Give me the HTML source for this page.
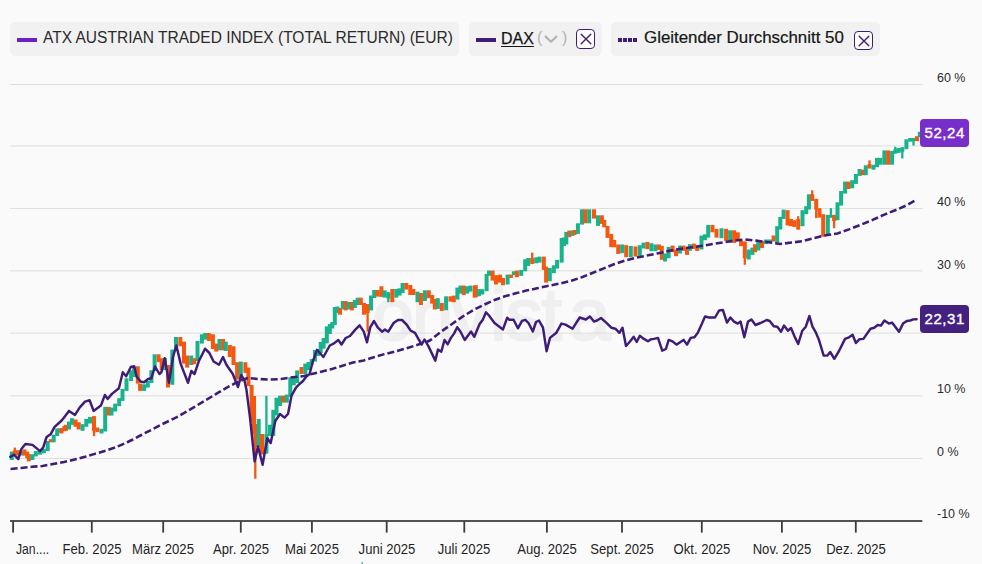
<!DOCTYPE html>
<html><head><meta charset="utf-8"><title>Chart</title>
<style>
html,body{margin:0;padding:0;}
body{width:982px;height:564px;overflow:hidden;background:#fafafa;font-family:"Liberation Sans",sans-serif;position:relative;color:#1c1c1c;}
.pill{position:absolute;top:22px;height:34px;background:#f1f1f1;border-radius:5px;}
.lt{position:absolute;font-size:16px;line-height:20px;white-space:nowrap;color:#2a2a2a;transform-origin:0 50%;}
.yl{position:absolute;left:936.8px;font-size:13.5px;line-height:14px;color:#2a2a2a;white-space:nowrap;transform:scaleX(0.925);transform-origin:0 50%;}
.xl{position:absolute;top:541.2px;font-size:14px;line-height:16px;color:#1f1f1f;white-space:nowrap;transform:translateX(-50%) scaleX(0.935);}
.badge{position:absolute;left:920.1px;width:48.6px;height:28.3px;border-radius:4px;color:#fff;font-size:15px;line-height:27.6px;text-align:center;-webkit-text-stroke:0.4px #fff;letter-spacing:0.55px;text-indent:0.5px;}
.xb{position:absolute;width:17.5px;height:17.5px;border:1.2px solid #3e1c78;border-radius:4px;background:#fff;}
</style></head><body>

<svg width="982" height="564" viewBox="0 0 982 564" style="position:absolute;left:0;top:0">
<text x="393" y="340.3" text-anchor="middle" font-family="Liberation Sans, sans-serif" font-size="74.5" fill="#efefef" stroke="#efefef" stroke-width="2.2" stroke-linejoin="round">o</text>
<text x="432.8" y="340.3" text-anchor="middle" font-family="Liberation Sans, sans-serif" font-size="74.5" fill="#efefef" stroke="#efefef" stroke-width="2.2" stroke-linejoin="round">n</text>
<text x="470.3" y="340.3" text-anchor="middle" font-family="Liberation Sans, sans-serif" font-size="74.5" fill="#efefef" stroke="#efefef" stroke-width="2.2" stroke-linejoin="round">v</text>
<text x="498.6" y="340.3" text-anchor="middle" font-family="Liberation Sans, sans-serif" font-size="74.5" fill="#efefef" stroke="#efefef" stroke-width="2.2" stroke-linejoin="round">i</text>
<text x="524.3" y="340.3" text-anchor="middle" font-family="Liberation Sans, sans-serif" font-size="74.5" fill="#efefef" stroke="#efefef" stroke-width="2.2" stroke-linejoin="round">s</text>
<text x="551.5" y="340.3" text-anchor="middle" font-family="Liberation Sans, sans-serif" font-size="74.5" fill="#efefef" stroke="#efefef" stroke-width="2.2" stroke-linejoin="round">t</text>
<text x="589.8" y="340.3" text-anchor="middle" font-family="Liberation Sans, sans-serif" font-size="74.5" fill="#efefef" stroke="#efefef" stroke-width="2.2" stroke-linejoin="round">a</text>
<rect x="10" y="84.00" width="912.3" height="1" fill="#dedede"/>
<rect x="10" y="145.40" width="912.3" height="1" fill="#dedede"/>
<rect x="10" y="207.95" width="912.3" height="1" fill="#dedede"/>
<rect x="10" y="270.35" width="912.3" height="1" fill="#dedede"/>
<rect x="10" y="332.60" width="912.3" height="1" fill="#dedede"/>
<rect x="10" y="395.30" width="912.3" height="1" fill="#dedede"/>
<rect x="10" y="458.00" width="912.3" height="1" fill="#dedede"/>
<rect x="13.65" y="447.60" width="2.3" height="7.40" fill="#f4570f"/>
<rect x="92.85" y="416.20" width="2.3" height="19.90" fill="#f4570f"/>
<rect x="254.15" y="424.00" width="2.3" height="54.70" fill="#f4570f"/>
<rect x="265.25" y="395.80" width="2.3" height="57.70" fill="#18b28b"/>
<rect x="366.45" y="304.00" width="2.3" height="27.70" fill="#f4570f"/>
<rect x="387.15" y="292.30" width="2.3" height="9.90" fill="#18b28b"/>
<rect x="531.05" y="252.60" width="2.3" height="11.30" fill="#f4570f"/>
<rect x="743.65" y="241.60" width="2.3" height="23.20" fill="#f4570f"/>
<rect x="797.05" y="216.20" width="2.3" height="13.30" fill="#f4570f"/>
<rect x="811.05" y="190.30" width="2.3" height="10.60" fill="#f4570f"/>
<rect x="815.05" y="198.90" width="2.3" height="19.30" fill="#f4570f"/>
<rect x="829.75" y="208.20" width="2.3" height="9.40" fill="#18b28b"/>
<rect x="832.95" y="214.90" width="2.3" height="13.30" fill="#f4570f"/>
<rect x="868.35" y="160.40" width="2.3" height="8.00" fill="#f4570f"/>
<rect x="894.15" y="146.70" width="2.3" height="6.80" fill="#18b28b"/>
<rect x="901.15" y="147.30" width="2.3" height="11.20" fill="#18b28b"/>
<rect x="912.35" y="138.00" width="2.3" height="7.50" fill="#18b28b"/>
<rect x="9.80" y="451.60" width="4.0" height="8.40" fill="#18b28b"/>
<rect x="12.80" y="450.50" width="4.0" height="4.50" fill="#f4570f"/>
<rect x="16.00" y="450.20" width="4.0" height="5.40" fill="#f4570f"/>
<rect x="19.30" y="451.00" width="4.0" height="4.50" fill="#18b28b"/>
<rect x="22.50" y="449.40" width="4.0" height="6.20" fill="#f4570f"/>
<rect x="25.20" y="451.60" width="4.0" height="6.60" fill="#f4570f"/>
<rect x="26.80" y="454.00" width="4.0" height="7.30" fill="#f4570f"/>
<rect x="30.40" y="454.20" width="4.0" height="5.80" fill="#18b28b"/>
<rect x="33.80" y="451.10" width="4.0" height="5.30" fill="#18b28b"/>
<rect x="37.90" y="450.20" width="4.0" height="4.50" fill="#18b28b"/>
<rect x="41.90" y="448.90" width="4.0" height="4.40" fill="#18b28b"/>
<rect x="45.70" y="441.00" width="4.0" height="10.10" fill="#18b28b"/>
<rect x="48.80" y="439.20" width="4.0" height="3.10" fill="#f4570f"/>
<rect x="51.70" y="434.70" width="4.0" height="7.60" fill="#18b28b"/>
<rect x="55.20" y="428.50" width="4.0" height="7.50" fill="#18b28b"/>
<rect x="57.30" y="428.50" width="4.0" height="4.00" fill="#18b28b"/>
<rect x="59.50" y="428.10" width="4.0" height="5.30" fill="#f4570f"/>
<rect x="62.40" y="425.90" width="4.0" height="5.30" fill="#f4570f"/>
<rect x="64.00" y="424.80" width="4.0" height="6.00" fill="#f4570f"/>
<rect x="67.00" y="421.50" width="4.0" height="8.00" fill="#18b28b"/>
<rect x="70.00" y="418.20" width="4.0" height="6.60" fill="#18b28b"/>
<rect x="73.60" y="419.50" width="4.0" height="7.30" fill="#f4570f"/>
<rect x="76.70" y="422.20" width="4.0" height="7.30" fill="#f4570f"/>
<rect x="80.60" y="424.20" width="4.0" height="6.60" fill="#18b28b"/>
<rect x="84.30" y="418.90" width="4.0" height="7.90" fill="#18b28b"/>
<rect x="88.00" y="416.90" width="4.0" height="6.60" fill="#18b28b"/>
<rect x="92.00" y="416.20" width="4.0" height="14.60" fill="#f4570f"/>
<rect x="95.30" y="427.50" width="4.0" height="4.70" fill="#f4570f"/>
<rect x="99.50" y="428.80" width="4.0" height="4.70" fill="#18b28b"/>
<rect x="103.20" y="406.90" width="4.0" height="24.60" fill="#18b28b"/>
<rect x="106.60" y="406.90" width="4.0" height="8.60" fill="#f4570f"/>
<rect x="109.50" y="407.60" width="4.0" height="7.90" fill="#18b28b"/>
<rect x="113.20" y="403.60" width="4.0" height="7.90" fill="#18b28b"/>
<rect x="117.20" y="398.20" width="4.0" height="8.00" fill="#18b28b"/>
<rect x="120.50" y="388.90" width="4.0" height="12.00" fill="#18b28b"/>
<rect x="124.50" y="378.30" width="4.0" height="12.60" fill="#18b28b"/>
<rect x="129.10" y="370.30" width="4.0" height="10.70" fill="#18b28b"/>
<rect x="132.20" y="366.30" width="4.0" height="10.70" fill="#18b28b"/>
<rect x="135.80" y="366.30" width="4.0" height="17.30" fill="#f4570f"/>
<rect x="138.10" y="383.60" width="4.0" height="7.30" fill="#f4570f"/>
<rect x="142.10" y="384.30" width="4.0" height="6.60" fill="#18b28b"/>
<rect x="145.80" y="381.00" width="4.0" height="6.60" fill="#18b28b"/>
<rect x="149.40" y="370.20" width="4.0" height="12.80" fill="#18b28b"/>
<rect x="152.60" y="354.30" width="4.0" height="16.70" fill="#18b28b"/>
<rect x="156.60" y="354.30" width="4.0" height="7.90" fill="#f4570f"/>
<rect x="159.70" y="358.20" width="4.0" height="12.00" fill="#f4570f"/>
<rect x="163.00" y="358.00" width="4.0" height="12.00" fill="#18b28b"/>
<rect x="166.00" y="365.00" width="4.0" height="22.50" fill="#f4570f"/>
<rect x="170.30" y="349.60" width="4.0" height="35.20" fill="#18b28b"/>
<rect x="174.00" y="337.00" width="4.0" height="13.30" fill="#18b28b"/>
<rect x="178.30" y="337.00" width="4.0" height="9.30" fill="#f4570f"/>
<rect x="182.00" y="341.60" width="4.0" height="22.00" fill="#f4570f"/>
<rect x="185.20" y="355.60" width="4.0" height="12.00" fill="#f4570f"/>
<rect x="189.20" y="355.60" width="4.0" height="9.40" fill="#18b28b"/>
<rect x="192.30" y="358.20" width="4.0" height="6.00" fill="#f4570f"/>
<rect x="195.50" y="341.00" width="4.0" height="20.00" fill="#18b28b"/>
<rect x="199.90" y="334.30" width="4.0" height="9.30" fill="#18b28b"/>
<rect x="203.20" y="333.00" width="4.0" height="6.60" fill="#18b28b"/>
<rect x="206.90" y="333.00" width="4.0" height="8.00" fill="#f4570f"/>
<rect x="210.90" y="334.30" width="4.0" height="14.70" fill="#f4570f"/>
<rect x="214.20" y="343.60" width="4.0" height="8.00" fill="#f4570f"/>
<rect x="217.50" y="339.00" width="4.0" height="11.30" fill="#18b28b"/>
<rect x="221.10" y="339.00" width="4.0" height="11.30" fill="#f4570f"/>
<rect x="223.80" y="341.60" width="4.0" height="9.40" fill="#18b28b"/>
<rect x="227.80" y="345.00" width="4.0" height="12.00" fill="#f4570f"/>
<rect x="231.50" y="346.30" width="4.0" height="18.70" fill="#f4570f"/>
<rect x="235.10" y="362.20" width="4.0" height="17.30" fill="#f4570f"/>
<rect x="238.80" y="361.60" width="4.0" height="16.60" fill="#18b28b"/>
<rect x="243.40" y="362.20" width="4.0" height="10.70" fill="#f4570f"/>
<rect x="246.40" y="367.60" width="4.0" height="18.60" fill="#f4570f"/>
<rect x="249.60" y="385.00" width="4.0" height="37.00" fill="#f4570f"/>
<rect x="252.00" y="396.00" width="4.0" height="38.00" fill="#f4570f"/>
<rect x="253.30" y="424.00" width="4.0" height="23.00" fill="#f4570f"/>
<rect x="256.70" y="419.00" width="4.0" height="28.00" fill="#18b28b"/>
<rect x="260.00" y="434.00" width="4.0" height="20.50" fill="#f4570f"/>
<rect x="264.40" y="434.00" width="4.0" height="19.50" fill="#18b28b"/>
<rect x="268.00" y="424.70" width="4.0" height="11.30" fill="#18b28b"/>
<rect x="271.30" y="409.80" width="4.0" height="26.10" fill="#18b28b"/>
<rect x="274.50" y="397.70" width="4.0" height="17.70" fill="#18b28b"/>
<rect x="278.00" y="395.70" width="4.0" height="10.30" fill="#18b28b"/>
<rect x="281.40" y="395.70" width="4.0" height="6.90" fill="#f4570f"/>
<rect x="284.80" y="394.60" width="4.0" height="8.00" fill="#18b28b"/>
<rect x="288.30" y="377.30" width="4.0" height="19.70" fill="#18b28b"/>
<rect x="291.80" y="376.00" width="4.0" height="9.30" fill="#18b28b"/>
<rect x="295.20" y="370.40" width="4.0" height="12.60" fill="#18b28b"/>
<rect x="299.50" y="367.00" width="4.0" height="7.00" fill="#f4570f"/>
<rect x="303.30" y="363.60" width="4.0" height="10.40" fill="#18b28b"/>
<rect x="306.50" y="362.00" width="4.0" height="8.00" fill="#18b28b"/>
<rect x="309.70" y="359.00" width="4.0" height="5.70" fill="#18b28b"/>
<rect x="313.00" y="350.00" width="4.0" height="11.50" fill="#18b28b"/>
<rect x="316.00" y="349.00" width="4.0" height="7.00" fill="#18b28b"/>
<rect x="318.70" y="342.00" width="4.0" height="11.00" fill="#18b28b"/>
<rect x="321.60" y="338.00" width="4.0" height="10.70" fill="#18b28b"/>
<rect x="324.80" y="326.40" width="4.0" height="17.00" fill="#18b28b"/>
<rect x="327.80" y="324.00" width="4.0" height="10.00" fill="#18b28b"/>
<rect x="330.30" y="322.00" width="4.0" height="6.50" fill="#18b28b"/>
<rect x="332.80" y="307.00" width="4.0" height="18.00" fill="#18b28b"/>
<rect x="335.40" y="306.50" width="4.0" height="6.50" fill="#18b28b"/>
<rect x="338.00" y="308.00" width="4.0" height="6.70" fill="#f4570f"/>
<rect x="340.80" y="301.00" width="4.0" height="8.40" fill="#18b28b"/>
<rect x="343.60" y="301.00" width="4.0" height="9.40" fill="#f4570f"/>
<rect x="346.70" y="302.00" width="4.0" height="7.40" fill="#18b28b"/>
<rect x="349.90" y="302.00" width="4.0" height="8.40" fill="#f4570f"/>
<rect x="352.80" y="300.00" width="4.0" height="8.00" fill="#18b28b"/>
<rect x="355.70" y="297.70" width="4.0" height="7.30" fill="#18b28b"/>
<rect x="358.80" y="297.70" width="4.0" height="7.30" fill="#f4570f"/>
<rect x="362.00" y="303.00" width="4.0" height="11.70" fill="#f4570f"/>
<rect x="365.60" y="304.00" width="4.0" height="9.00" fill="#f4570f"/>
<rect x="369.00" y="295.50" width="4.0" height="14.90" fill="#18b28b"/>
<rect x="372.20" y="290.00" width="4.0" height="8.00" fill="#18b28b"/>
<rect x="375.70" y="290.00" width="4.0" height="6.60" fill="#f4570f"/>
<rect x="379.40" y="286.30" width="4.0" height="10.60" fill="#f4570f"/>
<rect x="382.60" y="290.30" width="4.0" height="7.30" fill="#18b28b"/>
<rect x="386.30" y="292.30" width="4.0" height="6.20" fill="#18b28b"/>
<rect x="390.30" y="289.00" width="4.0" height="13.20" fill="#f4570f"/>
<rect x="394.30" y="289.00" width="4.0" height="8.60" fill="#18b28b"/>
<rect x="397.60" y="288.30" width="4.0" height="7.30" fill="#18b28b"/>
<rect x="400.60" y="283.00" width="4.0" height="10.00" fill="#18b28b"/>
<rect x="404.30" y="283.00" width="4.0" height="6.60" fill="#f4570f"/>
<rect x="408.30" y="285.00" width="4.0" height="10.00" fill="#f4570f"/>
<rect x="411.40" y="289.00" width="4.0" height="6.00" fill="#f4570f"/>
<rect x="415.50" y="291.60" width="4.0" height="10.60" fill="#18b28b"/>
<rect x="418.90" y="293.00" width="4.0" height="12.00" fill="#f4570f"/>
<rect x="422.90" y="290.30" width="4.0" height="10.70" fill="#18b28b"/>
<rect x="426.80" y="290.30" width="4.0" height="7.90" fill="#f4570f"/>
<rect x="430.20" y="295.00" width="4.0" height="8.60" fill="#f4570f"/>
<rect x="432.80" y="299.00" width="4.0" height="10.50" fill="#f4570f"/>
<rect x="435.80" y="298.20" width="4.0" height="10.70" fill="#18b28b"/>
<rect x="439.80" y="303.00" width="4.0" height="7.90" fill="#f4570f"/>
<rect x="444.10" y="296.30" width="4.0" height="13.90" fill="#18b28b"/>
<rect x="448.50" y="296.30" width="4.0" height="5.30" fill="#f4570f"/>
<rect x="451.80" y="295.60" width="4.0" height="6.60" fill="#f4570f"/>
<rect x="455.40" y="287.60" width="4.0" height="12.00" fill="#18b28b"/>
<rect x="458.40" y="285.60" width="4.0" height="8.00" fill="#18b28b"/>
<rect x="461.80" y="285.60" width="4.0" height="9.40" fill="#f4570f"/>
<rect x="465.10" y="286.30" width="4.0" height="7.30" fill="#18b28b"/>
<rect x="468.40" y="285.60" width="4.0" height="6.00" fill="#18b28b"/>
<rect x="472.70" y="285.60" width="4.0" height="12.00" fill="#f4570f"/>
<rect x="476.20" y="289.60" width="4.0" height="6.70" fill="#18b28b"/>
<rect x="473.80" y="285.20" width="4.0" height="12.00" fill="#f4570f"/>
<rect x="477.00" y="289.20" width="4.0" height="6.70" fill="#18b28b"/>
<rect x="480.30" y="289.20" width="4.0" height="5.30" fill="#18b28b"/>
<rect x="484.60" y="273.90" width="4.0" height="17.30" fill="#18b28b"/>
<rect x="487.00" y="270.60" width="4.0" height="5.30" fill="#18b28b"/>
<rect x="490.60" y="270.60" width="4.0" height="10.00" fill="#f4570f"/>
<rect x="494.00" y="275.20" width="4.0" height="9.30" fill="#f4570f"/>
<rect x="498.00" y="274.60" width="4.0" height="8.00" fill="#f4570f"/>
<rect x="501.00" y="277.90" width="4.0" height="7.30" fill="#f4570f"/>
<rect x="505.60" y="274.60" width="4.0" height="9.90" fill="#18b28b"/>
<rect x="509.00" y="274.60" width="4.0" height="3.30" fill="#f4570f"/>
<rect x="511.90" y="271.30" width="4.0" height="3.90" fill="#18b28b"/>
<rect x="514.90" y="270.60" width="4.0" height="6.60" fill="#f4570f"/>
<rect x="519.20" y="269.90" width="4.0" height="6.00" fill="#18b28b"/>
<rect x="523.20" y="259.30" width="4.0" height="12.00" fill="#18b28b"/>
<rect x="526.20" y="258.00" width="4.0" height="7.90" fill="#18b28b"/>
<rect x="530.20" y="258.00" width="4.0" height="5.90" fill="#f4570f"/>
<rect x="534.20" y="257.30" width="4.0" height="6.00" fill="#18b28b"/>
<rect x="537.50" y="256.60" width="4.0" height="6.00" fill="#18b28b"/>
<rect x="541.80" y="256.60" width="4.0" height="13.30" fill="#f4570f"/>
<rect x="544.10" y="266.60" width="4.0" height="16.00" fill="#f4570f"/>
<rect x="547.80" y="267.90" width="4.0" height="13.30" fill="#18b28b"/>
<rect x="551.80" y="265.30" width="4.0" height="7.90" fill="#18b28b"/>
<rect x="555.10" y="259.90" width="4.0" height="8.70" fill="#18b28b"/>
<rect x="559.70" y="238.00" width="4.0" height="24.60" fill="#18b28b"/>
<rect x="562.00" y="237.50" width="4.0" height="8.50" fill="#18b28b"/>
<rect x="564.30" y="231.90" width="4.0" height="12.60" fill="#18b28b"/>
<rect x="567.30" y="230.60" width="4.0" height="6.60" fill="#f4570f"/>
<rect x="570.30" y="230.60" width="4.0" height="5.30" fill="#18b28b"/>
<rect x="572.50" y="230.00" width="4.0" height="5.00" fill="#f4570f"/>
<rect x="575.90" y="223.30" width="4.0" height="10.60" fill="#18b28b"/>
<rect x="580.00" y="209.30" width="4.0" height="15.30" fill="#18b28b"/>
<rect x="583.30" y="209.30" width="4.0" height="14.00" fill="#f4570f"/>
<rect x="587.20" y="209.30" width="4.0" height="14.00" fill="#18b28b"/>
<rect x="592.00" y="209.30" width="4.0" height="9.30" fill="#f4570f"/>
<rect x="596.00" y="215.30" width="4.0" height="10.60" fill="#18b28b"/>
<rect x="599.90" y="215.30" width="4.0" height="8.60" fill="#f4570f"/>
<rect x="602.20" y="219.90" width="4.0" height="7.40" fill="#f4570f"/>
<rect x="605.50" y="225.90" width="4.0" height="12.00" fill="#f4570f"/>
<rect x="609.20" y="233.90" width="4.0" height="13.30" fill="#f4570f"/>
<rect x="612.20" y="239.90" width="4.0" height="7.30" fill="#f4570f"/>
<rect x="616.20" y="244.50" width="4.0" height="9.40" fill="#f4570f"/>
<rect x="620.20" y="244.50" width="4.0" height="8.70" fill="#18b28b"/>
<rect x="624.20" y="245.20" width="4.0" height="12.00" fill="#f4570f"/>
<rect x="628.80" y="245.90" width="4.0" height="11.30" fill="#18b28b"/>
<rect x="633.50" y="246.50" width="4.0" height="10.00" fill="#f4570f"/>
<rect x="637.80" y="245.20" width="4.0" height="10.70" fill="#18b28b"/>
<rect x="641.50" y="242.60" width="4.0" height="5.90" fill="#18b28b"/>
<rect x="645.40" y="241.90" width="4.0" height="7.30" fill="#f4570f"/>
<rect x="649.40" y="243.20" width="4.0" height="8.00" fill="#18b28b"/>
<rect x="653.40" y="244.50" width="4.0" height="6.70" fill="#18b28b"/>
<rect x="657.00" y="244.50" width="4.0" height="5.40" fill="#f4570f"/>
<rect x="659.80" y="245.90" width="4.0" height="13.90" fill="#f4570f"/>
<rect x="663.00" y="253.50" width="4.0" height="8.00" fill="#18b28b"/>
<rect x="666.60" y="246.90" width="4.0" height="11.30" fill="#18b28b"/>
<rect x="670.60" y="245.60" width="4.0" height="6.60" fill="#f4570f"/>
<rect x="674.00" y="249.50" width="4.0" height="6.70" fill="#f4570f"/>
<rect x="678.00" y="245.60" width="4.0" height="7.90" fill="#18b28b"/>
<rect x="681.60" y="245.60" width="4.0" height="5.30" fill="#f4570f"/>
<rect x="685.00" y="247.60" width="4.0" height="7.30" fill="#f4570f"/>
<rect x="687.90" y="244.20" width="4.0" height="6.70" fill="#18b28b"/>
<rect x="691.90" y="243.60" width="4.0" height="5.30" fill="#f4570f"/>
<rect x="695.20" y="245.60" width="4.0" height="5.30" fill="#f4570f"/>
<rect x="699.50" y="235.60" width="4.0" height="13.90" fill="#18b28b"/>
<rect x="702.90" y="234.30" width="4.0" height="5.90" fill="#18b28b"/>
<rect x="706.20" y="224.90" width="4.0" height="12.70" fill="#18b28b"/>
<rect x="710.50" y="224.90" width="4.0" height="7.40" fill="#f4570f"/>
<rect x="714.50" y="228.90" width="4.0" height="8.70" fill="#f4570f"/>
<rect x="719.50" y="228.30" width="4.0" height="9.90" fill="#18b28b"/>
<rect x="724.10" y="228.90" width="4.0" height="12.00" fill="#f4570f"/>
<rect x="728.10" y="230.30" width="4.0" height="12.60" fill="#18b28b"/>
<rect x="732.10" y="230.30" width="4.0" height="12.60" fill="#f4570f"/>
<rect x="735.80" y="232.30" width="4.0" height="7.90" fill="#f4570f"/>
<rect x="739.10" y="240.90" width="4.0" height="5.30" fill="#f4570f"/>
<rect x="742.80" y="241.60" width="4.0" height="16.60" fill="#f4570f"/>
<rect x="746.70" y="249.50" width="4.0" height="10.00" fill="#18b28b"/>
<rect x="750.40" y="247.60" width="4.0" height="7.30" fill="#18b28b"/>
<rect x="753.10" y="244.20" width="4.0" height="8.00" fill="#f4570f"/>
<rect x="756.30" y="240.80" width="4.0" height="9.70" fill="#18b28b"/>
<rect x="760.00" y="240.80" width="4.0" height="7.30" fill="#f4570f"/>
<rect x="764.00" y="239.50" width="4.0" height="4.60" fill="#18b28b"/>
<rect x="768.00" y="239.50" width="4.0" height="3.30" fill="#18b28b"/>
<rect x="771.60" y="235.50" width="4.0" height="6.00" fill="#f4570f"/>
<rect x="775.20" y="226.20" width="4.0" height="16.60" fill="#18b28b"/>
<rect x="778.30" y="216.90" width="4.0" height="12.60" fill="#18b28b"/>
<rect x="781.60" y="209.60" width="4.0" height="9.30" fill="#18b28b"/>
<rect x="785.60" y="210.20" width="4.0" height="15.30" fill="#f4570f"/>
<rect x="788.90" y="218.90" width="4.0" height="7.30" fill="#f4570f"/>
<rect x="792.20" y="220.20" width="4.0" height="6.70" fill="#f4570f"/>
<rect x="796.20" y="219.00" width="4.0" height="10.50" fill="#f4570f"/>
<rect x="800.50" y="210.20" width="4.0" height="16.00" fill="#18b28b"/>
<rect x="804.20" y="206.20" width="4.0" height="8.00" fill="#18b28b"/>
<rect x="806.90" y="194.30" width="4.0" height="15.30" fill="#18b28b"/>
<rect x="810.20" y="194.30" width="4.0" height="6.60" fill="#f4570f"/>
<rect x="814.20" y="198.90" width="4.0" height="10.70" fill="#f4570f"/>
<rect x="817.50" y="208.20" width="4.0" height="9.40" fill="#f4570f"/>
<rect x="821.20" y="214.20" width="4.0" height="22.60" fill="#f4570f"/>
<rect x="825.80" y="214.90" width="4.0" height="19.30" fill="#18b28b"/>
<rect x="828.90" y="214.90" width="4.0" height="2.70" fill="#18b28b"/>
<rect x="832.10" y="214.90" width="4.0" height="6.10" fill="#f4570f"/>
<rect x="835.50" y="202.30" width="4.0" height="17.90" fill="#18b28b"/>
<rect x="839.10" y="191.00" width="4.0" height="14.60" fill="#18b28b"/>
<rect x="843.10" y="181.60" width="4.0" height="12.00" fill="#18b28b"/>
<rect x="846.50" y="181.60" width="4.0" height="7.40" fill="#f4570f"/>
<rect x="850.20" y="180.20" width="4.0" height="8.10" fill="#18b28b"/>
<rect x="853.90" y="174.00" width="4.0" height="9.90" fill="#18b28b"/>
<rect x="857.60" y="169.00" width="4.0" height="6.90" fill="#18b28b"/>
<rect x="861.00" y="169.70" width="4.0" height="5.50" fill="#f4570f"/>
<rect x="863.80" y="165.30" width="4.0" height="9.90" fill="#18b28b"/>
<rect x="867.50" y="164.10" width="4.0" height="4.30" fill="#f4570f"/>
<rect x="871.50" y="164.70" width="4.0" height="5.00" fill="#18b28b"/>
<rect x="875.00" y="157.90" width="4.0" height="9.30" fill="#18b28b"/>
<rect x="878.40" y="157.90" width="4.0" height="6.80" fill="#18b28b"/>
<rect x="882.40" y="150.40" width="4.0" height="14.30" fill="#18b28b"/>
<rect x="886.10" y="150.40" width="4.0" height="14.30" fill="#f4570f"/>
<rect x="890.10" y="151.00" width="4.0" height="13.70" fill="#18b28b"/>
<rect x="893.30" y="149.50" width="4.0" height="4.00" fill="#18b28b"/>
<rect x="896.60" y="148.00" width="4.0" height="4.90" fill="#18b28b"/>
<rect x="900.30" y="147.30" width="4.0" height="4.40" fill="#18b28b"/>
<rect x="904.40" y="139.30" width="4.0" height="9.90" fill="#18b28b"/>
<rect x="908.20" y="138.00" width="4.0" height="3.70" fill="#18b28b"/>
<rect x="911.50" y="138.00" width="4.0" height="3.20" fill="#18b28b"/>
<rect x="915.00" y="136.20" width="4.0" height="4.90" fill="#f4570f"/>
<rect x="917.80" y="131.80" width="4.0" height="5.60" fill="#18b28b"/>
<path d="M10.6,469.0 L21.3,468.0 L32.0,466.8 L42.5,466.0 L53.0,464.0 L64.0,462.0 L74.5,459.6 L85.0,456.8 L95.7,453.6 L106.4,450.4 L117.0,446.8 L127.7,442.0 L132.8,439.5 L141.3,435.0 L152.0,429.5 L162.5,424.0 L175.3,417.9 L183.8,413.2 L194.5,406.9 L205.0,400.6 L215.7,394.2 L226.4,387.8 L237.0,382.2 L247.7,378.0 L258.0,379.0 L269.6,379.6 L281.0,379.0 L292.6,377.3 L304.0,376.0 L310.6,374.3 L321.3,371.7 L332.0,369.0 L342.5,365.7 L353.0,362.5 L363.8,360.4 L374.5,357.0 L385.0,354.0 L395.7,351.3 L406.4,348.3 L417.0,345.0 L427.7,341.5 L430.6,340.0 L441.3,331.5 L452.0,324.0 L462.6,316.6 L473.0,310.2 L483.8,304.8 L494.5,300.0 L505.0,296.2 L515.7,293.3 L526.4,290.6 L537.0,288.3 L550.6,285.4 L561.3,283.3 L572.0,280.5 L582.5,277.0 L593.0,272.7 L603.8,268.4 L614.5,264.0 L625.0,260.5 L635.7,257.8 L646.4,255.6 L657.0,253.5 L670.6,250.6 L681.3,248.7 L692.0,247.2 L702.5,245.8 L713.0,244.0 L723.8,242.3 L734.5,240.5 L745.0,239.4 L755.7,240.6 L766.4,241.9 L777.0,243.4 L780.0,244.0 L791.5,242.6 L803.0,241.0 L814.6,238.0 L826.0,235.2 L837.6,233.4 L849.0,229.4 L860.6,224.8 L872.0,220.2 L883.7,214.9 L895.2,210.3 L906.7,205.3 L917.0,199.5" fill="none" stroke="#3e1c78" stroke-width="2.55" stroke-dasharray="7 3" stroke-linejoin="round"/>
<path d="M10.3,456.9 L13.9,454.7 L18.3,459.1 L21.4,448.9 L25.4,444.0 L32.5,444.9 L40.0,451.1 L43.1,447.6 L46.6,437.0 L50.6,434.3 L54.6,426.8 L61.7,420.5 L65.0,416.2 L69.0,410.9 L75.0,414.9 L79.6,407.6 L85.0,401.6 L89.6,400.2 L93.6,410.9 L100.9,405.6 L104.9,394.9 L107.6,398.9 L112.2,393.6 L118.9,388.3 L122.8,372.3 L126.2,376.3 L130.8,367.0 L134.1,366.3 L136.8,377.0 L140.8,381.6 L144.1,382.3 L148.1,379.0 L151.4,378.3 L155.0,366.5 L159.4,374.0 L161.5,372.0 L164.7,358.3 L169.0,382.8 L173.0,357.0 L176.4,345.5 L180.6,363.6 L188.0,382.8 L191.3,371.0 L194.5,374.0 L198.7,361.5 L205.0,348.7 L209.4,353.0 L213.6,361.5 L219.0,364.7 L223.0,357.0 L226.4,364.7 L232.8,374.0 L238.0,387.0 L241.3,375.0 L244.5,380.6 L246.5,390.0 L250.0,417.6 L254.6,461.4 L258.0,446.4 L262.6,464.8 L267.3,438.3 L270.7,443.0 L275.3,421.0 L280.0,414.0 L284.5,417.6 L288.0,414.0 L291.5,395.7 L296.0,387.6 L299.5,384.0 L303.0,381.0 L306.4,376.4 L309.6,374.0 L312.8,361.5 L317.0,349.8 L323.4,357.0 L329.8,345.5 L334.0,343.4 L338.3,340.0 L341.5,344.5 L345.7,338.0 L350.0,336.0 L355.3,329.6 L359.6,325.3 L363.8,331.7 L367.0,342.3 L370.2,327.4 L374.0,321.0 L377.7,327.4 L382.0,331.7 L385.0,329.6 L388.3,331.7 L393.6,323.0 L397.9,320.0 L402.0,320.0 L406.4,324.3 L410.6,330.6 L415.0,332.8 L419.0,340.0 L421.7,344.5 L424.5,339.5 L428.5,346.4 L435.3,360.6 L438.0,349.6 L441.3,351.7 L444.5,340.0 L447.7,344.3 L450.9,337.9 L454.0,333.6 L457.2,327.2 L460.4,331.5 L464.7,340.0 L471.0,331.5 L474.3,336.8 L479.6,324.0 L482.8,319.8 L486.0,312.3 L489.0,315.5 L494.5,323.0 L503.0,329.4 L507.2,317.7 L509.4,319.8 L513.6,319.8 L517.9,328.3 L522.0,320.9 L525.3,319.8 L528.5,323.0 L532.8,331.5 L536.0,322.0 L539.0,320.5 L543.0,327.7 L546.6,351.2 L550.0,337.9 L556.3,332.8 L561.4,323.6 L565.5,324.6 L572.6,328.7 L579.7,317.5 L585.8,319.5 L589.9,316.5 L594.0,321.6 L597.0,320.5 L601.0,318.0 L606.2,322.6 L611.3,327.7 L615.4,328.7 L619.4,332.8 L622.5,327.7 L626.0,346.0 L629.6,342.0 L633.7,336.8 L636.7,342.0 L639.8,335.8 L643.9,338.9 L648.0,341.3 L651.0,339.3 L654.0,338.9 L658.0,337.9 L662.2,350.7 L665.9,349.0 L668.7,339.9 L672.4,341.3 L676.5,344.6 L680.5,342.0 L683.6,339.9 L687.0,344.6 L690.7,337.9 L694.4,337.3 L697.8,332.8 L702.0,323.6 L705.0,316.5 L709.0,317.5 L715.0,317.5 L719.2,310.4 L722.9,310.0 L727.0,322.6 L730.4,317.5 L734.0,321.6 L737.7,323.6 L740.6,321.6 L744.3,337.3 L748.0,321.6 L751.4,319.5 L755.5,325.0 L760.5,323.0 L766.7,320.0 L769.7,321.0 L773.8,326.3 L777.3,326.7 L781.0,331.8 L784.0,325.6 L788.0,330.7 L791.0,328.0 L795.2,337.9 L798.2,344.0 L802.3,330.7 L805.8,326.7 L809.4,316.0 L812.5,326.7 L815.5,331.8 L818.6,338.9 L823.7,355.6 L827.4,355.6 L830.2,352.0 L834.3,358.8 L839.0,351.0 L845.0,338.9 L849.0,337.3 L852.6,334.8 L855.9,343.0 L859.3,339.3 L863.4,338.9 L870.5,328.7 L874.2,327.7 L877.7,325.0 L881.0,325.6 L884.4,320.5 L888.9,323.6 L892.0,322.6 L899.0,331.8 L903.0,323.6 L906.8,321.0 L910.2,320.5 L913.3,319.4 L916.6,319.2" fill="none" stroke="#3e1c78" stroke-width="2.45" stroke-linejoin="round" stroke-linecap="round"/>
<rect x="10" y="520.15" width="912.3" height="1.7" fill="#363636"/>
<rect x="12.20" y="521.00" width="1.8" height="11.6" fill="#3c3c3c"/>
<rect x="90.90" y="521.00" width="1.8" height="11.6" fill="#3c3c3c"/>
<rect x="162.30" y="521.00" width="1.8" height="11.6" fill="#3c3c3c"/>
<rect x="239.90" y="521.00" width="1.8" height="11.6" fill="#3c3c3c"/>
<rect x="311.00" y="521.00" width="1.8" height="11.6" fill="#3c3c3c"/>
<rect x="385.80" y="521.00" width="1.8" height="11.6" fill="#3c3c3c"/>
<rect x="463.40" y="521.00" width="1.8" height="11.6" fill="#3c3c3c"/>
<rect x="546.00" y="521.00" width="1.8" height="11.6" fill="#3c3c3c"/>
<rect x="621.10" y="521.00" width="1.8" height="11.6" fill="#3c3c3c"/>
<rect x="700.90" y="521.00" width="1.8" height="11.6" fill="#3c3c3c"/>
<rect x="781.00" y="521.00" width="1.8" height="11.6" fill="#3c3c3c"/>
<rect x="854.90" y="521.00" width="1.8" height="11.6" fill="#3c3c3c"/>
<rect x="361.5" y="562" width="1.5" height="2" fill="#18b28b" opacity="0.8"/>
</svg>
<div class="yl" style="top:70.7px">60 %</div>
<div class="yl" style="top:133.0px">50 %</div>
<div class="yl" style="top:195.4px">40 %</div>
<div class="yl" style="top:257.7px">30 %</div>
<div class="yl" style="top:320.0px">20 %</div>
<div class="yl" style="top:382.3px">10 %</div>
<div class="yl" style="top:444.7px">0 %</div>
<div class="yl" style="top:507.0px">-10 %</div>
<div class="xl" style="left:16.2px;transform:scaleX(0.87);transform-origin:0 50%">Jan....</div>
<div class="xl" style="left:91.8px">Feb. 2025</div>
<div class="xl" style="left:163.2px">März 2025</div>
<div class="xl" style="left:240.8px">Apr. 2025</div>
<div class="xl" style="left:311.9px">Mai 2025</div>
<div class="xl" style="left:386.7px">Juni 2025</div>
<div class="xl" style="left:464.3px">Juli 2025</div>
<div class="xl" style="left:546.9px">Aug. 2025</div>
<div class="xl" style="left:622px">Sept. 2025</div>
<div class="xl" style="left:701.8px">Okt. 2025</div>
<div class="xl" style="left:781.9px">Nov. 2025</div>
<div class="xl" style="left:855.8px">Dez. 2025</div>
<div class="badge" style="top:119px;background:#782ecb">52,24</div>
<div class="badge" style="top:305.2px;background:#44207f">22,31</div>
<div class="pill" style="left:10px;width:449px"></div>
<div class="pill" style="left:469px;width:133px"></div>
<div class="pill" style="left:611px;width:269px"></div>
<div style="position:absolute;left:16.5px;top:37.9px;width:20.4px;height:3.9px;background:#6a22c8"></div>
<div class="lt" id="t1" style="left:42.8px;top:28px;transform:scaleX(0.9705)">ATX AUSTRIAN TRADED INDEX (TOTAL RETURN) (EUR)</div>
<div style="position:absolute;left:476.2px;top:38px;width:19.5px;height:3.8px;background:#3e1c78"></div>
<div class="lt" id="t2" style="left:501px;top:29px;color:#161616;-webkit-text-stroke:0.25px #161616;text-decoration:underline;text-underline-offset:2px">DAX</div>
<div class="lt" id="t2b" style="left:537px;top:28px;color:#b4b4b4">(</div>
<div class="lt" id="t2c" style="left:562px;top:28px;color:#b4b4b4">)</div>
<svg style="position:absolute;left:543px;top:33px" width="16" height="12" viewBox="0 0 16 12"><path d="M2.6,3.6 L8,8.8 L13.4,3.6" fill="none" stroke="#b4b4b4" stroke-width="2.2" stroke-linecap="round" stroke-linejoin="round"/></svg>
<div class="xb" style="left:575.7px;top:29px"></div>
<svg style="position:absolute;left:575.7px;top:29px" width="20" height="20" viewBox="0 0 20 20"><path d="M5.2,5.2 L14.8,14.8 M14.8,5.2 L5.2,14.8" fill="none" stroke="#3e1c78" stroke-width="1.4" stroke-linecap="round"/></svg>
<div style="position:absolute;left:618.0px;top:38px;width:4.1px;height:4px;background:#3e1c78"></div>
<div style="position:absolute;left:623.0px;top:38px;width:4.1px;height:4px;background:#3e1c78"></div>
<div style="position:absolute;left:628.0px;top:38px;width:4.1px;height:4px;background:#3e1c78"></div>
<div style="position:absolute;left:633.0px;top:38px;width:4.1px;height:4px;background:#3e1c78"></div>
<div class="lt" id="t3" style="left:644px;top:27.5px;color:#161616;-webkit-text-stroke:0.2px #161616;transform:scaleX(1.055)">Gleitender Durchschnitt 50</div>
<div class="xb" style="left:853.9px;top:30.8px"></div>
<svg style="position:absolute;left:853.9px;top:30.8px" width="20" height="20" viewBox="0 0 20 20"><path d="M5.2,5.2 L14.8,14.8 M14.8,5.2 L5.2,14.8" fill="none" stroke="#3e1c78" stroke-width="1.4" stroke-linecap="round"/></svg>
</body></html>
